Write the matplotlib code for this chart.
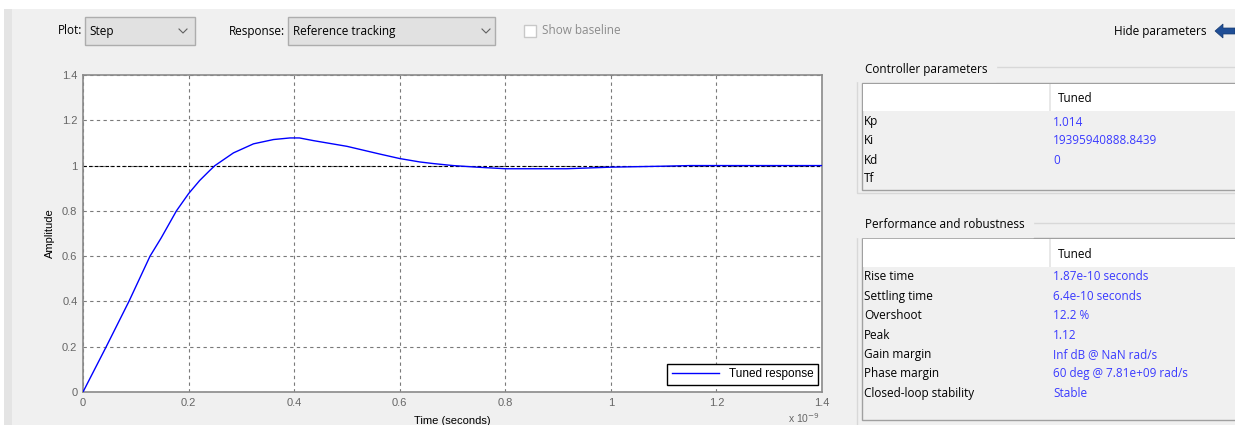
import matplotlib
matplotlib.use('Agg')
import numpy as np
from matplotlib import pyplot as plt
from matplotlib.patches import Rectangle, Polygon
from matplotlib.lines import Line2D

# step response (time in 1e-9 s)
t_ns = [0, 0.044, 0.087, 0.127, 0.148, 0.177, 0.2, 0.221, 0.24, 0.25, 0.285,
        0.323, 0.361, 0.392, 0.41, 0.437, 0.5, 0.562, 0.6, 0.638, 0.663,
        0.701, 0.746, 0.8, 0.916, 1.0, 1.094, 1.15, 1.4]
amplitude = [0, 0.2, 0.4, 0.6, 0.68, 0.8, 0.876, 0.934, 0.978, 1.0, 1.056,
             1.096, 1.115, 1.122, 1.122, 1.11, 1.085, 1.051, 1.031, 1.016,
             1.009, 1.0, 0.993, 0.986, 0.986, 0.993, 0.997, 1.0, 1.0]

x_ticks = [0, 0.2, 0.4, 0.6, 0.8, 1, 1.2, 1.4]
y_ticks = [0, 0.2, 0.4, 0.6, 0.8, 1, 1.2, 1.4]
tick_labels = ['0', '0.2', '0.4', '0.6', '0.8', '1', '1.2', '1.4']

ctrl_names = ['Kp', 'Ki', 'Kd', 'Tf']
ctrl_values = ['1.014', '19395940888.8439', '0', '']
perf_names = ['Rise time', 'Settling time', 'Overshoot', 'Peak', 'Gain margin',
              'Phase margin', 'Closed-loop stability']
perf_values = ['1.87e-10 seconds', '6.4e-10 seconds', '12.2 %', '1.12',
               'Inf dB @ NaN rad/s', '60 deg @ 7.81e+09 rad/s', 'Stable']

W, H = 1235, 425
UI = ['Open Sans', 'DejaVu Sans']
BLUE_TXT = '#3a3aff'
GRAY_BG = '#f0f0f0'


def px(x, y):
    return x / W, 1 - y / H


def rect(fig, x0, y0, x1, y1, fc, ec='none', lw=1, z=0):
    fx, fy = px(x0, y1)
    fig.patches.append(Rectangle((fx, fy), (x1 - x0) / W, (y1 - y0) / H,
                                 transform=fig.transFigure, facecolor=fc,
                                 edgecolor=ec, linewidth=lw, zorder=z))


def txt(fig, x, y, s, size=8.5, color='black', ha='left', va='center', **kw):
    fx, fy = px(x, y)
    fig.text(fx, fy, s, fontsize=size, color=color, ha=ha, va=va,
             family=UI, **kw)


def chevron(fig, cx, cy):
    xs = [cx - 4, cx, cx + 4]
    ys = [cy - 2, cy + 2, cy - 2]
    fig.add_artist(Line2D([x / W for x in xs], [1 - y / H for y in ys],
                          transform=fig.transFigure, color='#606060', lw=0.8))


fig = plt.figure(figsize=(W / 100, H / 100), dpi=100, facecolor=GRAY_BG)

# window edges
rect(fig, 0, 0, W, 9, 'white')
rect(fig, 0, 0, 4, H, 'white')
rect(fig, 4, 9, 12, H, '#e4e4e4')

# toolbar
txt(fig, 82, 31, 'Plot:', ha='right')
rect(fig, 85, 17, 195, 45, '#e1e1e1', '#adadad')
txt(fig, 89, 31, 'Step')
chevron(fig, 183, 31)
txt(fig, 285, 31, 'Response:', ha='right')
rect(fig, 288, 17, 495, 45, '#e1e1e1', '#adadad')
txt(fig, 293, 31, 'Reference tracking')
chevron(fig, 486, 31)
rect(fig, 524, 25, 536, 37, 'white', '#c8c8c8')
txt(fig, 542, 31, 'Show baseline', color='#8c8c8c')
txt(fig, 1206, 31, 'Hide parameters', ha='right')
arrow = [(1215, 31), (1223, 24), (1223, 28), (1235, 28), (1235, 34),
         (1223, 34), (1223, 38)]
fig.patches.append(Polygon([px(x, y) for x, y in arrow], closed=True,
                           transform=fig.transFigure, facecolor='#1f4e96',
                           edgecolor='#163a70', lw=0.5))

# plot
ax = fig.add_axes([83 / W, 1 - 392 / H, (822 - 83) / W, (392 - 75) / H])
ax.plot(t_ns, amplitude, color='#0000ff', lw=1.0, label='Tuned response', zorder=3)
ax.axhline(1, color='black', lw=0.8, ls=(0, (3, 2)), zorder=2)
ax.set_xlim(0, 1.4)
ax.set_ylim(0, 1.4)
ax.set_xticks(x_ticks)
ax.set_yticks(y_ticks)
ax.set_xticklabels(tick_labels)
ax.set_yticklabels(tick_labels)
ax.tick_params(length=0, pad=4, labelsize=8, labelcolor='#666666')
for lab in ax.get_xticklabels() + ax.get_yticklabels():
    lab.set_family('Liberation Sans')
ax.grid(True, color='#7a7a7a', lw=0.8, ls=(0, (3, 3)))
for sp in ax.spines.values():
    sp.set_color('#8a8a8a')
    sp.set_linewidth(1.2)
ax.set_ylabel('Amplitude', fontsize=8, family='Liberation Sans', labelpad=5)
leg = ax.legend(loc='lower right', bbox_to_anchor=(1 - 4 / 739, 7 / 317),
                borderaxespad=0, fancybox=False, edgecolor='black',
                handlelength=4, framealpha=1,
                prop={'family': 'Liberation Sans', 'size': 8.5})
leg.get_frame().set_linewidth(1.0)
fx, fy = px(452, 416)
fig.text(fx, fy, 'Time (seconds)', fontsize=8, family='Liberation Sans',
         ha='center', va='top')
fx, fy = px(788, 418)
fig.text(fx, fy, 'x 10$^{-9}$', fontsize=7.5, family='Liberation Sans',
         color='#666666', ha='left', va='center')

# controller parameters group
rect(fig, 857, 67, W + 5, 193, 'none', '#d8d8d8')
rect(fig, 862, 83, W + 5, 190, GRAY_BG, '#a0a0a0', z=1)
rect(fig, 863, 84, W + 5, 111, 'white', z=2)
rect(fig, 1049, 84, 1051, 111, '#e8e8e8', z=3)
txt(fig, 862, 69, ' Controller parameters ', backgroundcolor=GRAY_BG)
txt(fig, 1058, 98, 'Tuned')
for i, (n, v) in enumerate(zip(ctrl_names, ctrl_values)):
    y = 122 + i * 19
    txt(fig, 864, y, n)
    txt(fig, 1053, y, v, color=BLUE_TXT)

# performance group
rect(fig, 857, 223, W + 5, H + 5, 'none', '#d8d8d8')
rect(fig, 862, 238, W + 5, 420, GRAY_BG, '#a0a0a0', z=1)
rect(fig, 863, 239, W + 5, 267, 'white', z=2)
rect(fig, 1049, 239, 1051, 267, '#e8e8e8', z=3)
txt(fig, 862, 225, ' Performance and robustness ', backgroundcolor=GRAY_BG)
txt(fig, 1058, 254, 'Tuned')
for i, (n, v) in enumerate(zip(perf_names, perf_values)):
    y = 277 + i * 19.4
    txt(fig, 864, y, n)
    txt(fig, 1053, y, v, color=BLUE_TXT)

plt.savefig('out.png', dpi=100, facecolor=fig.get_facecolor())
